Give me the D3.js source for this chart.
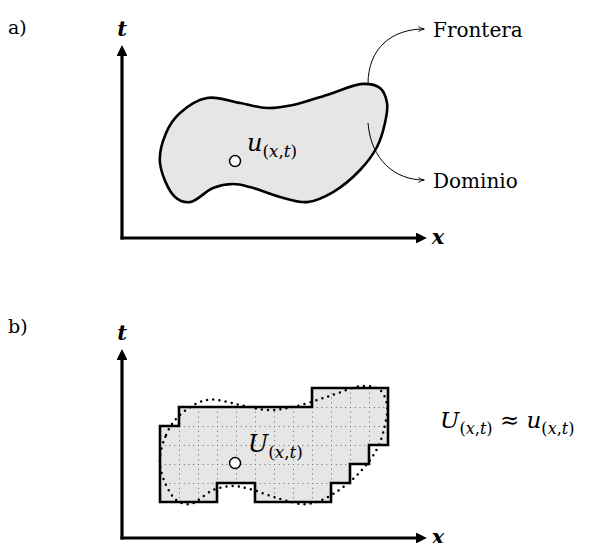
<!DOCTYPE html>
<html><head><meta charset="utf-8">
<script src="https://cdn.jsdelivr.net/npm/d3@7"></script>
<style>html,body{margin:0;padding:0;background:#fff;}svg{display:block;}</style>
</head><body>
<script>
// ---- data (domain units: x in [0,12], t in [0,6]) ----
const blobX = [0.00,0.32,1.05,2.47,4.21,5.63,7.00,8.79,10.68,11.58,11.95,11.84,11.42,10.53,9.11,7.74,6.32,4.74,3.84,2.79,1.58,0.79];
const blobT = [1.95,3.53,4.58,5.37,5.11,4.84,5.00,5.53,6.11,5.89,5.11,4.05,2.79,1.58,0.42,-0.11,0.16,0.68,0.84,0.63,-0.11,0.16];
const stepX = [0,1,1,8,8,12,12,11,11,10,10,9,9,5,5,3,3,0];
const stepT = [4,4,5,5,6,6,3,3,2,2,1,1,0,0,1,1,0,0];
const gridX = [1,2,3,4,5,6,7,8,9,10,11];
const gridT = [1,2,3,4,5];
const pointXT = [3.95, 2.05];
const panelLabels = ["a)", "b)"];
const arrowLabels = ["Frontera", "Dominio"];

const W = 598, H = 543;
const svg = d3.select("body").append("svg").attr("width", W).attr("height", H);
const defs = svg.append("defs");

const x = d3.scaleLinear().domain([0, 12]).range([160, 388]);
const yA = d3.scaleLinear().domain([0, 6]).range([200, 86]);
const yB = d3.scaleLinear().domain([0, 6]).range([502, 388]);

const serif = "'DejaVu Serif', 'Liberation Serif', serif";

// markers
defs.append("marker").attr("id", "axArrow").attr("viewBox", "0 0 10 10")
  .attr("refX", 0).attr("refY", 5).attr("markerWidth", 4.3).attr("markerHeight", 3.4)
  .attr("orient", "auto").attr("markerUnits", "strokeWidth")
  .append("path").attr("d", "M0,0 L10,5 L0,10 Z").attr("fill", "#000");
defs.append("marker").attr("id", "thinArrow").attr("viewBox", "0 0 10 10")
  .attr("refX", 9).attr("refY", 5).attr("markerWidth", 7).attr("markerHeight", 7)
  .attr("orient", "auto").attr("markerUnits", "userSpaceOnUse")
  .append("path").attr("d", "M1,1.5 Q5,4.2 9.5,5 Q5,5.8 1,8.5").attr("fill", "none").attr("stroke", "#000").attr("stroke-width", 1.3);

const blobPts = blobX.map((v, i) => [v, blobT[i]]);
const stepPts = stepX.map((v, i) => [v, stepT[i]]);

function axes(originY, tipY) {
  const g = svg.append("g");
  g.append("line").attr("x1", 122).attr("y1", originY + 1.5).attr("x2", 122).attr("y2", tipY + 10)
    .attr("stroke", "#000").attr("stroke-width", 3.2).attr("marker-end", "url(#axArrow)");
  g.append("line").attr("x1", 120.5).attr("y1", originY).attr("x2", 416).attr("y2", originY)
    .attr("stroke", "#000").attr("stroke-width", 3.2).attr("marker-end", "url(#axArrow)");
  g.append("text").attr("x", 122).attr("y", tipY - 10).attr("text-anchor", "middle")
    .attr("font-family", serif).attr("font-style", "italic").attr("font-weight", "bold")
    .attr("font-size", 21).text("t");
  g.append("text").attr("x", 438).attr("y", originY + 6).attr("text-anchor", "middle")
    .attr("font-family", serif).attr("font-style", "italic").attr("font-weight", "bold")
    .attr("font-size", 21).text("x");
}

function sub(t, size, first) {
  const s = size * 0.7;
  t.append("tspan").attr("dy", first ? 5.5 : 0).attr("font-size", s).attr("font-style", "normal").text("(");
  t.append("tspan").attr("font-size", s).text("x");
  t.append("tspan").attr("font-size", s).attr("font-style", "normal").text(",");
  t.append("tspan").attr("font-size", s).text("t");
  t.append("tspan").attr("font-size", s).attr("font-style", "normal").text(")");
}
function mathLabel(px, py, main, size) {
  const t = svg.append("text").attr("x", px).attr("y", py)
    .attr("font-family", serif).attr("font-size", size).attr("font-style", "italic");
  t.append("tspan").text(main);
  sub(t, size, true);
  return t;
}

// panel labels
svg.append("text").attr("x", 8).attr("y", 34).attr("font-family", serif).attr("font-size", 19).text(panelLabels[0]);
svg.append("text").attr("x", 8).attr("y", 333).attr("font-family", serif).attr("font-size", 19).text(panelLabels[1]);

// ---------------- panel a ----------------
axes(238, 46);
const lineA = d3.line().x(d => x(d[0])).y(d => yA(d[1])).curve(d3.curveCatmullRomClosed.alpha(0.5));
svg.append("path").attr("d", lineA(blobPts)).attr("fill", "#e6e6e6").attr("stroke", "#000").attr("stroke-width", 2.6);
svg.append("circle").attr("cx", x(pointXT[0])).attr("cy", yA(pointXT[1])).attr("r", 5.5)
  .attr("fill", "#fff").attr("stroke", "#000").attr("stroke-width", 1.5);
mathLabel(247, 151, "u", 24);

// annotation arrows
svg.append("path").attr("d", "M368,84 C368,48 392,29 424,29").attr("fill", "none")
  .attr("stroke", "#000").attr("stroke-width", 1).attr("marker-end", "url(#thinArrow)");
svg.append("path").attr("d", "M368,123 C371,160 395,180 424,180").attr("fill", "none")
  .attr("stroke", "#000").attr("stroke-width", 1).attr("marker-end", "url(#thinArrow)");
svg.append("text").attr("x", 433).attr("y", 37).attr("font-family", serif).attr("font-size", 20).text(arrowLabels[0]);
svg.append("text").attr("x", 433).attr("y", 188).attr("font-family", serif).attr("font-size", 20).text(arrowLabels[1]);

// ---------------- panel b ----------------
axes(538, 350);
const stepLine = d3.line().x(d => x(d[0])).y(d => yB(d[1])).curve(d3.curveLinearClosed);
defs.append("clipPath").attr("id", "stepClip").append("path").attr("d", stepLine(stepPts));
svg.append("path").attr("d", stepLine(stepPts)).attr("fill", "#e6e6e6").attr("stroke", "none");
const grid = svg.append("g").attr("clip-path", "url(#stepClip)")
  .attr("stroke", "#666").attr("stroke-width", 1).attr("stroke-dasharray", "1,3.75");
grid.selectAll("line.v").data(gridX).join("line").attr("class", "v")
  .attr("x1", d => x(d) + 0.5).attr("x2", d => x(d) + 0.5).attr("y1", yB(6)).attr("y2", yB(0));
grid.selectAll("line.h").data(gridT).join("line").attr("class", "h")
  .attr("x1", x(0)).attr("x2", x(12)).attr("y1", d => yB(d) + 0.5).attr("y2", d => yB(d) + 0.5);
const lineB = d3.line().x(d => x(d[0])).y(d => yB(d[1])).curve(d3.curveCatmullRomClosed.alpha(0.5));
svg.append("path").attr("d", lineB(blobPts)).attr("fill", "none").attr("stroke", "#000")
  .attr("stroke-width", 2.5).attr("stroke-linecap", "round").attr("stroke-dasharray", "0,6.2");
svg.append("path").attr("d", stepLine(stepPts)).attr("fill", "none").attr("stroke", "#000")
  .attr("stroke-width", 2.6).attr("stroke-linejoin", "miter");
svg.append("circle").attr("cx", x(pointXT[0])).attr("cy", yB(pointXT[1])).attr("r", 5.5)
  .attr("fill", "#fff").attr("stroke", "#000").attr("stroke-width", 1.5);
mathLabel(248, 452, "U", 24);

// relation text
const rel = mathLabel(440, 428, "U", 23);
rel.append("tspan").attr("dy", -5.5).attr("font-style", "normal").text(" ≈ ");
rel.append("tspan").text("u");
sub(rel, 23, true);
</script>
</body></html>
